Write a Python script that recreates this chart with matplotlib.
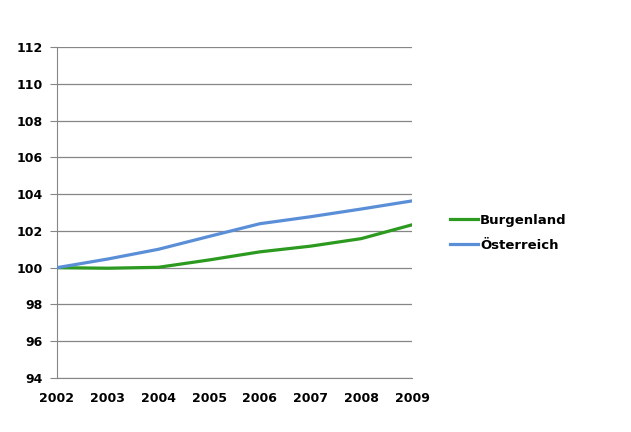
import matplotlib.pyplot as plt

years = [2002, 2003, 2004, 2005, 2006, 2007, 2008, 2009]
burgenland = [100.0, 99.97, 100.02, 100.42, 100.86, 101.17, 101.58, 102.33]
oesterreich = [100.0, 100.47, 101.0, 101.7, 102.39, 102.77, 103.19, 103.63]
yticks = [94, 96, 98, 100, 102, 104, 106, 108, 110, 112]

plt.rcParams['font.family'] = ['DejaVu Sans']
plt.rcParams['font.size'] = 9

fig = plt.figure(figsize=(6.31, 4.32), dpi=100)
ax = fig.add_axes([57 / 631, 1 - 378 / 432, 355 / 631, 331 / 432])

grid_col = '#868686'
ax.plot(years, burgenland, color='#2B9A1F', lw=2.3, label='Burgenland', zorder=3)
ax.plot(years, oesterreich, color='#5A8FD8', lw=2.3, label='Österreich', zorder=3)

ax.set_xlim(2002, 2009)
ax.set_ylim(94, 112)
ax.set_yticks(yticks)
ax.set_xticks(years)
ax.yaxis.grid(True, color=grid_col, lw=0.9)
ax.set_axisbelow(True)

for s in ['top', 'right']:
    ax.spines[s].set_visible(False)
ax.spines['left'].set_color(grid_col)
ax.spines['bottom'].set_color(grid_col)
ax.tick_params(axis='y', length=5, color=grid_col, pad=5)
ax.tick_params(axis='x', length=0, pad=10)
for lab in ax.get_xticklabels() + ax.get_yticklabels():
    lab.set_fontweight('bold')

leg = fig.legend(loc='center left', bbox_to_anchor=(438 / 631, 1 - 233 / 432),
                 frameon=False, handlelength=2.1, handletextpad=0.2,
                 labelspacing=0.9, prop={'weight': 'bold', 'size': 9.5})

fig.savefig('out.png', dpi=100)
